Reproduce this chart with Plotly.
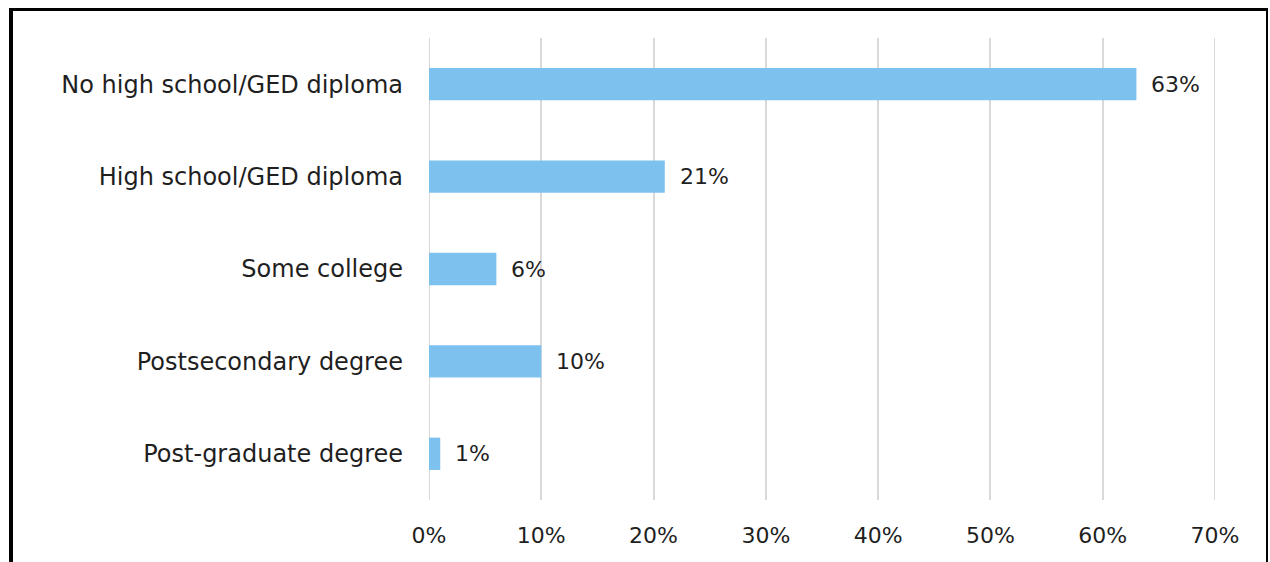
import plotly.graph_objects as go

# Highest level of education completed
categories = [
    "No high school/GED diploma",
    "High school/GED diploma",
    "Some college",
    "Postsecondary degree",
    "Post-graduate degree",
]
shares = [63, 21, 6, 10, 1]
tick_vals = [0, 10, 20, 30, 40, 50, 60, 70]
tick_text = [f"{v}%" for v in tick_vals]

W, H = 1270, 562
ML, MR, MT, MB = 429, 55, 38, 62
PW, PH = W - ML - MR, H - MT - MB

BAR = "#7DC1EE"
GRID = "#D9D9D9"
TEXT = "#1F1F1F"
FONT = "DejaVu Sans"


def px_x(p):
    return (p - ML) / PW


def px_y(p):
    return 1 - (p - MT) / PH


fig = go.Figure(
    go.Bar(
        x=shares,
        y=categories,
        orientation="h",
        marker=dict(color=BAR, line=dict(width=0)),
        width=0.35,
    )
)

for cat, v in zip(categories, shares):
    fig.add_annotation(
        x=v, y=cat, text=f"{v}%", showarrow=False,
        xanchor="left", xshift=13,
        font=dict(family=FONT, size=22, color=TEXT),
    )

# gridlines at the two ends of the value axis
for v in (tick_vals[0], tick_vals[-1]):
    fig.add_shape(type="line", xref="x", yref="paper", layer="below",
                  x0=v, x1=v, y0=0, y1=1,
                  line=dict(color=GRID, width=2))

# frame around the chart
border = [
    (px_x(11), px_y(9.5), px_x(11), px_y(H + 5), 4),
    (px_x(9), px_y(9.5), px_x(1268), px_y(9.5), 3),
    (px_x(1267), px_y(9.5), px_x(1267), px_y(H + 5), 2),
]
for x0, y0, x1, y1, w in border:
    fig.add_shape(type="line", xref="paper", yref="paper",
                  x0=x0, y0=y0, x1=x1, y1=y1,
                  line=dict(color="black", width=w))

fig.update_layout(
    width=W, height=H,
    margin=dict(l=ML, r=MR, t=MT, b=MB, pad=0),
    paper_bgcolor="white", plot_bgcolor="white",
    showlegend=False,
    font=dict(family=FONT, size=22, color=TEXT),
    xaxis=dict(
        range=[0, 70], tickvals=tick_vals, ticktext=tick_text,
        showgrid=True, gridcolor=GRID, gridwidth=2,
        zeroline=False, showline=False, ticks="",
        ticklabelstandoff=20,
        tickfont=dict(family=FONT, size=22, color=TEXT),
        fixedrange=True,
    ),
    yaxis=dict(
        autorange=False, range=[4.5, -0.5],
        categoryorder="array", categoryarray=categories,
        showgrid=False, zeroline=False, showline=False, ticks="",
        ticklabelstandoff=25,
        tickfont=dict(family=FONT, size=24, color=TEXT),
        fixedrange=True,
    ),
)

fig.write_html("out.html")
